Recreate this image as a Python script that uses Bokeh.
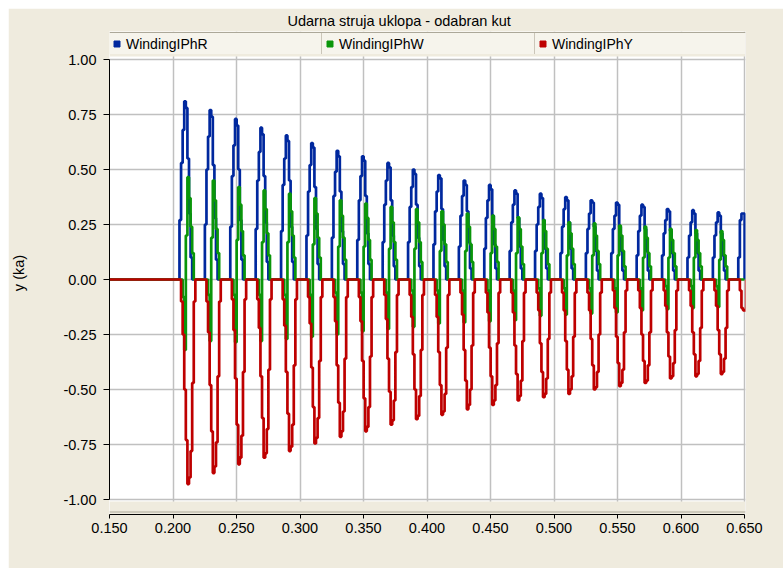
from bokeh.plotting import figure
from bokeh.models import (Range1d, FixedTicker, NumeralTickFormatter, Grid, Legend,
                          LegendItem, BoxAnnotation, Span, ColumnDataSource)
from bokeh.embed import file_html
from bokeh.resources import INLINE

# ---------------- data ----------------
TITLE = "Udarna struja uklopa - odabran kut"
Y_LABEL = "y (ka)"
SERIES_NAMES = ["WindingIPhR", "WindingIPhW", "WindingIPhY"]
SERIES_COLORS = ["#00289E", "#0A960A", "#BE0000"]

X_TICKS = [0.15, 0.20, 0.25, 0.30, 0.35, 0.40, 0.45, 0.50, 0.55, 0.60, 0.65]
Y_TICKS = [-1.0, -0.75, -0.5, -0.25, 0.0, 0.25, 0.5, 0.75, 1.0]

X_START, X_END = 0.15, 0.65
T_FIRST = 0.2051     # first switching instant (s)
PERIOD = 0.02        # 50 Hz
DT = 0.00125         # sample step of the recorded signal (s)

# WindingIPhR samples of each cycle (ka), from the picture
R_PULSES = [
    [0.27, 0.53, 0.68, 0.81, 0.78, 0.55, 0.30, 0.10],
    [0.25, 0.50, 0.65, 0.77, 0.74, 0.52, 0.28, 0.09],
    [0.24, 0.47, 0.61, 0.73, 0.70, 0.50, 0.27, 0.09],
    [0.23, 0.45, 0.58, 0.69, 0.66, 0.47, 0.26, 0.08],
    [0.22, 0.43, 0.55, 0.655, 0.63, 0.45, 0.24, 0.08],
    [0.20, 0.40, 0.52, 0.62, 0.60, 0.42, 0.23, 0.07],
    [0.19, 0.38, 0.49, 0.585, 0.56, 0.40, 0.22, 0.07],
    [0.18, 0.36, 0.47, 0.56, 0.54, 0.38, 0.21, 0.07],
    [0.17, 0.34, 0.45, 0.53, 0.51, 0.36, 0.20, 0.06],
    [0.17, 0.33, 0.42, 0.50, 0.48, 0.34, 0.19, 0.06],
    [0.16, 0.31, 0.40, 0.475, 0.46, 0.32, 0.18, 0.06],
    [0.15, 0.29, 0.38, 0.45, 0.43, 0.31, 0.17, 0.05],
    [0.14, 0.28, 0.36, 0.43, 0.41, 0.29, 0.16, 0.05],
    [0.13, 0.26, 0.34, 0.405, 0.39, 0.28, 0.15, 0.05],
    [0.13, 0.25, 0.33, 0.39, 0.37, 0.27, 0.14, 0.05],
    [0.12, 0.24, 0.32, 0.375, 0.36, 0.26, 0.14, 0.05],
    [0.12, 0.23, 0.30, 0.36, 0.35, 0.24, 0.13, 0.04],
    [0.12, 0.23, 0.29, 0.35, 0.34, 0.24, 0.13, 0.04],
    [0.11, 0.22, 0.29, 0.34, 0.33, 0.23, 0.13, 0.04],
    [0.11, 0.21, 0.27, 0.32, 0.31, 0.22, 0.12, 0.04],
    [0.10, 0.20, 0.26, 0.315, 0.30, 0.21, 0.12, 0.04],
    [0.10, 0.20, 0.26, 0.305, 0.29, 0.21, 0.11, 0.04],
    [0.10, 0.27, 0.30, 0.30],
]

# WindingIPhW samples of each cycle (ka)
W_PULSES = [
    [-0.08, -0.32, 0.20, 0.465, 0.37, 0.24, 0.12],
    [-0.07, -0.28, 0.19, 0.45, 0.36, 0.23, 0.12],
    [-0.07, -0.285, 0.18, 0.42, 0.34, 0.22, 0.11],
    [-0.07, -0.28, 0.17, 0.405, 0.32, 0.21, 0.11],
    [-0.07, -0.27, 0.17, 0.39, 0.31, 0.20, 0.10],
    [-0.07, -0.26, 0.16, 0.37, 0.30, 0.19, 0.10],
    [-0.06, -0.25, 0.15, 0.36, 0.29, 0.19, 0.09],
    [-0.06, -0.235, 0.15, 0.345, 0.28, 0.18, 0.09],
    [-0.06, -0.225, 0.14, 0.33, 0.26, 0.17, 0.09],
    [-0.05, -0.215, 0.14, 0.32, 0.26, 0.17, 0.08],
    [-0.05, -0.20, 0.13, 0.31, 0.25, 0.16, 0.08],
    [-0.05, -0.195, 0.13, 0.30, 0.24, 0.16, 0.08],
    [-0.05, -0.19, 0.12, 0.29, 0.23, 0.15, 0.08],
    [-0.05, -0.185, 0.12, 0.283, 0.23, 0.15, 0.07],
    [-0.04, -0.165, 0.12, 0.27, 0.22, 0.14, 0.07],
    [-0.04, -0.16, 0.11, 0.26, 0.21, 0.14, 0.07],
    [-0.04, -0.155, 0.11, 0.255, 0.20, 0.13, 0.07],
    [-0.04, -0.15, 0.11, 0.245, 0.20, 0.13, 0.06],
    [-0.04, -0.14, 0.10, 0.24, 0.19, 0.12, 0.06],
    [-0.03, -0.135, 0.10, 0.23, 0.18, 0.12, 0.06],
    [-0.03, -0.13, 0.10, 0.225, 0.18, 0.12, 0.06],
    [-0.03, -0.125, 0.09, 0.22, 0.18, 0.11, 0.06],
]

# WindingIPhY samples of each cycle (ka)
Y_PULSES = [
    [-0.10, -0.25, -0.50, -0.73, -0.93, -0.90, -0.78, -0.47, -0.10],
    [-0.10, -0.24, -0.48, -0.69, -0.88, -0.85, -0.74, -0.44, -0.10],
    [-0.09, -0.23, -0.45, -0.66, -0.84, -0.81, -0.71, -0.42, -0.09],
    [-0.09, -0.22, -0.44, -0.63, -0.81, -0.79, -0.68, -0.41, -0.09],
    [-0.09, -0.21, -0.42, -0.61, -0.78, -0.76, -0.66, -0.39, -0.09],
    [-0.08, -0.20, -0.40, -0.58, -0.745, -0.72, -0.63, -0.37, -0.08],
    [-0.08, -0.19, -0.39, -0.56, -0.715, -0.69, -0.60, -0.36, -0.08],
    [-0.08, -0.19, -0.37, -0.54, -0.69, -0.67, -0.58, -0.35, -0.08],
    [-0.07, -0.18, -0.36, -0.51, -0.66, -0.64, -0.55, -0.33, -0.07],
    [-0.07, -0.17, -0.34, -0.50, -0.635, -0.62, -0.53, -0.32, -0.07],
    [-0.07, -0.17, -0.33, -0.48, -0.615, -0.60, -0.52, -0.31, -0.07],
    [-0.06, -0.16, -0.32, -0.46, -0.59, -0.57, -0.50, -0.30, -0.06],
    [-0.06, -0.15, -0.31, -0.44, -0.57, -0.55, -0.48, -0.29, -0.06],
    [-0.06, -0.15, -0.30, -0.43, -0.55, -0.53, -0.46, -0.28, -0.06],
    [-0.06, -0.14, -0.29, -0.42, -0.535, -0.52, -0.45, -0.27, -0.06],
    [-0.06, -0.14, -0.28, -0.41, -0.52, -0.50, -0.44, -0.26, -0.06],
    [-0.06, -0.14, -0.27, -0.39, -0.50, -0.49, -0.42, -0.25, -0.06],
    [-0.05, -0.13, -0.26, -0.38, -0.485, -0.47, -0.41, -0.24, -0.05],
    [-0.05, -0.13, -0.25, -0.37, -0.47, -0.46, -0.39, -0.24, -0.05],
    [-0.05, -0.12, -0.24, -0.35, -0.45, -0.44, -0.38, -0.23, -0.05],
    [-0.05, -0.12, -0.24, -0.34, -0.44, -0.43, -0.37, -0.22, -0.05],
    [-0.05, -0.12, -0.23, -0.34, -0.43, -0.42, -0.36, -0.22, -0.05],
    [-0.05, -0.13, -0.14, -0.14],
]

# delay (in samples) of each winding's pulse after the switching instant
LAGS = [0, 2, 1]

# ---------------- style / layout (canvas pixels) ----------------
BG = "#EFEBDE"
GRID = "#C0C0C0"
SEP = "#ACA899"
FONT = "Liberation Sans"
FS = "14.5px"

CANVAS_W, CANVAS_H = 775, 560
LEFT, RIGHT = 100, 38
FRAME_TOP, FRAME_BOT = 23, 506      # frame holds legend strip, plot and gap above the x axis
PLUS1_PX, MINUS1_PX = 51, 491       # where +1.00 and -1.00 lie
PLOT_TOP, PLOT_BOT = 48, 493        # white plotting area
LEGEND_BOTTOM = 46


def y_at(px):
    return 1.0 - (px - PLUS1_PX) * 2.0 / (MINUS1_PX - PLUS1_PX)


def waveform(pulses, lag):
    t, v = [X_START], [0.0]
    for k, pulse in enumerate(pulses):
        t0 = T_FIRST + k * PERIOD + lag * DT
        for i, val in enumerate(pulse):
            t.append(t0 + i * DT)
            v.append(val)
        t.append(t0 + len(pulse) * DT)
        v.append(0.0)
    if t[-1] < X_END:
        t.append(X_END)
        v.append(0.0)
    return dict(t=t, v=v)


x_pad = (X_END - X_START) / (CANVAS_W - LEFT - RIGHT)
p = figure(width=CANVAS_W, height=CANVAS_H, margin=(8, 0, 0, 8),
           min_border_left=LEFT, min_border_right=RIGHT,
           min_border_top=FRAME_TOP, min_border_bottom=CANVAS_H - FRAME_BOT,
           x_range=Range1d(X_START, X_END + x_pad),
           y_range=Range1d(y_at(FRAME_BOT), y_at(FRAME_TOP)),
           toolbar_location=None, output_backend="svg",
           background_fill_color="white", border_fill_color=BG, outline_line_color=None)

# title
p.title.text = TITLE
p.title.align = "left"
p.title.offset = 178
p.title.standoff = 5
p.title.text_font = FONT
p.title.text_font_size = FS
p.title.text_font_style = "normal"
p.title.text_color = "black"

# y axis
ya = p.yaxis[0]
ya.ticker = FixedTicker(ticks=Y_TICKS)
ya.formatter = NumeralTickFormatter(format="0.00")
ya.bounds = (-1, 1)
ya.major_tick_out = 6
ya.major_tick_in = 0
ya.minor_tick_out = 0
ya.minor_tick_in = 0
ya.major_label_standoff = 7
ya.major_label_text_font = FONT
ya.major_label_text_font_size = FS
ya.major_label_text_color = "black"
ya.axis_line_color = "black"
ya.major_tick_line_color = "black"
ya.axis_label = Y_LABEL
ya.axis_label_standoff = 33
ya.axis_label_text_font = FONT
ya.axis_label_text_font_size = FS
ya.axis_label_text_font_style = "normal"
ya.axis_label_text_color = "black"

# x axis
xa = p.xaxis[0]
xa.ticker = FixedTicker(ticks=X_TICKS)
xa.formatter = NumeralTickFormatter(format="0.000")
xa.bounds = (X_START, X_END)
xa.major_tick_out = 4
xa.major_tick_in = 0
xa.minor_tick_out = 0
xa.minor_tick_in = 0
xa.major_label_standoff = 4
xa.major_label_text_font = FONT
xa.major_label_text_font_size = FS
xa.major_label_text_color = "black"
xa.axis_line_color = "black"
xa.major_tick_line_color = "black"

# grids
p.xgrid.visible = False
p.ygrid.visible = False
p.add_layout(Grid(dimension=1, ticker=FixedTicker(ticks=Y_TICKS),
                  grid_line_color=GRID, grid_line_width=1.5))
p.add_layout(Grid(dimension=0, ticker=FixedTicker(ticks=X_TICKS),
                  grid_line_color=GRID, grid_line_width=1.5))

# series
items = []
for name, color, pulses, lag in zip(SERIES_NAMES, SERIES_COLORS,
                                    [R_PULSES, W_PULSES, Y_PULSES], LAGS):
    src = ColumnDataSource(waveform(pulses, lag))
    p.step("t", "v", source=src, mode="after", line_color=color, line_width=2.7)
    marker = p.scatter("t", "v", source=src, marker="square", size=7,
                       fill_color=color, line_color=color, visible=False)
    items.append(LegendItem(label=name, renderers=[marker]))

# window background outside the white plotting area
p.add_layout(BoxAnnotation(bottom=y_at(PLOT_TOP), fill_color=BG, fill_alpha=1,
                           line_color=None, level="glyph"))
p.add_layout(BoxAnnotation(top=y_at(PLOT_BOT), fill_color=BG, fill_alpha=1,
                           line_color=None, level="glyph"))
p.add_layout(Span(location=y_at(FRAME_TOP + 1), dimension="width",
                  line_color=SEP, line_width=1))
p.add_layout(Span(location=y_at(FRAME_BOT - 2.5), dimension="width",
                  line_color=SEP, line_width=1))

# legend strip above the plot
legend = Legend(items=items, orientation="horizontal",
                location=(0, FRAME_BOT - LEGEND_BOTTOM),
                margin=0, padding=0, spacing=1,
                glyph_width=15, glyph_height=21, label_height=21, label_width=195,
                label_standoff=2, label_text_font=FONT, label_text_font_size="14px",
                label_text_color="black", background_fill_color="#C8C4B6",
                border_line_color=None, inactive_fill_alpha=0,
                item_background_policy="every", item_background_fill_color="#F6F4EC",
                item_background_fill_alpha=1.0)
p.add_layout(legend, "center")

with open("out.html", "w") as f:
    f.write(file_html(p, INLINE))
